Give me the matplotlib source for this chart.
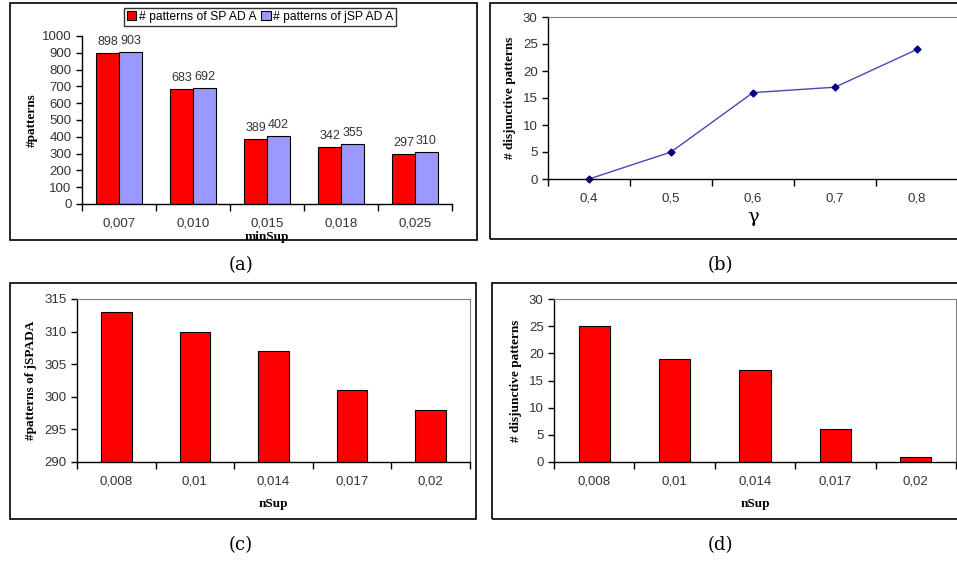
import numpy as np
import matplotlib
matplotlib.use("Agg")
import matplotlib.pyplot as plt
from matplotlib.patches import Rectangle

# data
minsup_labels = ["0,007", "0,010", "0,015", "0,018", "0,025"]
spada_counts = [898, 683, 389, 342, 297]
jspada_counts = [903, 692, 402, 355, 310]

gamma_labels = ["0,4", "0,5", "0,6", "0,7", "0,8"]
disj_by_gamma = [0, 5, 16, 17, 24]

nsup_labels = ["0,008", "0,01", "0,014", "0,017", "0,02"]
jspada_by_nsup = [313, 310, 307, 301, 298]
disj_by_nsup = [25, 19, 17, 6, 1]

W, H = 957, 563
fig = plt.figure(figsize=(W / 100, H / 100), dpi=100)

SANS = "Liberation Sans"
SERIF = "Liberation Serif"
RED = "#FF0000"
BLUE = "#9999FF"
GRAY = "#808080"
TXT = "#333333"
TICK_FS = 9.5
LAB_FS = 9.5


def px_axes(x0, y0, x1, y1):
    # pixel box (top-left origin) -> figure axes
    return fig.add_axes([x0 / W, 1 - y1 / H, (x1 - x0) / W, (y1 - y0) / H])


def frame(x0, y0, x1, y1):
    fig.add_artist(Rectangle((x0 / W, 1 - y1 / H), (x1 - x0) / W, (y1 - y0) / H,
                             transform=fig.transFigure, fill=False,
                             edgecolor="black", linewidth=1.2))


def caption(x, y, s):
    fig.text(x / W, 1 - y / H, s, ha="center", va="center",
             fontsize=13, family="DejaVu Serif")


def cat_axis(ax, labels, top_gray=True, right_gray=True):
    n = len(labels)
    ax.set_xlim(0, n)
    ax.set_xticks(np.arange(n + 1))
    ax.set_xticklabels([])
    ax.set_xticks(np.arange(n) + 0.5, minor=True)
    ax.set_xticklabels(labels, minor=True, fontsize=TICK_FS, family=SANS, color=TXT)
    ax.tick_params(axis="x", which="major", direction="out", length=5, width=1)
    ax.tick_params(axis="x", which="minor", length=0, pad=10)
    ax.tick_params(axis="y", direction="out", length=4, width=1,
                   labelsize=TICK_FS, labelcolor=TXT)
    for lab in ax.get_yticklabels():
        lab.set_family(SANS)
    ax.spines["left"].set_linewidth(1)
    ax.spines["bottom"].set_linewidth(1)
    ax.spines["top"].set_visible(top_gray)
    ax.spines["right"].set_visible(right_gray)
    ax.spines["top"].set_color(GRAY)
    ax.spines["right"].set_color(GRAY)
    ax.set_facecolor("none")


# ---------- (a) ----------
frame(10, 3, 477, 240)
ax = px_axes(82, 36, 452, 204)
x = np.arange(len(minsup_labels)) + 0.5
bw = 0.31
b1 = ax.bar(x - bw / 2, spada_counts, bw, color=RED, edgecolor="black", linewidth=0.8,
            label="# patterns of SP AD A")
b2 = ax.bar(x + bw / 2, jspada_counts, bw, color=BLUE, edgecolor="black", linewidth=0.8,
            label="# patterns of jSP AD A")
ax.set_ylim(0, 1000)
ax.set_yticks(np.arange(0, 1001, 100))
cat_axis(ax, minsup_labels, top_gray=False, right_gray=False)
for bars, vals in ((b1, spada_counts), (b2, jspada_counts)):
    for r, v in zip(bars, vals):
        ax.text(r.get_x() + r.get_width() / 2, v + 30, str(v), ha="center", va="bottom",
                fontsize=9, family=SANS, color=TXT)
ax.set_ylabel("#patterns", family=SERIF, fontweight="bold", fontsize=LAB_FS, labelpad=3)
ax.set_xlabel("minSup", family=SERIF, fontweight="bold", fontsize=LAB_FS, labelpad=1)
leg = fig.legend(handles=[b1, b2], loc="center", bbox_to_anchor=(260 / W, 1 - 17 / H),
                 ncol=2, frameon=True, fancybox=False, edgecolor="black",
                 prop={"family": SANS, "size": 8.7}, handlelength=0.8, handleheight=0.8,
                 handletextpad=0.2, columnspacing=0.4, borderpad=0.25, borderaxespad=0)
leg.get_frame().set_linewidth(1)
caption(241, 265, "(a)")

# ---------- (b) ----------
frame(490, 3, 960, 239)
ax = px_axes(548, 17, 958, 179)
x = np.arange(len(gamma_labels)) + 0.5
ax.plot(x, disj_by_gamma, color="#4848B0", linewidth=1, marker="D", markersize=3.5,
        markerfacecolor="#000080", markeredgecolor="#000080", clip_on=False)
ax.set_ylim(0, 30)
ax.set_yticks(np.arange(0, 31, 5))
cat_axis(ax, gamma_labels, top_gray=True, right_gray=False)
ax.set_ylabel("# disjunctive patterns", family=SERIF, fontweight="bold", fontsize=LAB_FS,
              labelpad=5)
ax.set_xlabel("γ", family="DejaVu Serif", fontsize=14, labelpad=2)
caption(720, 265, "(b)")

# ---------- (c) ----------
frame(10, 283, 476, 519)
ax = px_axes(77, 299, 470, 462)
x = np.arange(len(nsup_labels)) + 0.5
ax.bar(x, jspada_by_nsup, 0.39, color=RED, edgecolor="black", linewidth=0.8)
ax.set_ylim(290, 315)
ax.set_yticks(np.arange(290, 316, 5))
cat_axis(ax, nsup_labels)
ax.set_ylabel("#patterns of jSPADA", family=SERIF, fontweight="bold", fontsize=LAB_FS,
              labelpad=5)
ax.set_xlabel("nSup", family=SERIF, fontweight="bold", fontsize=LAB_FS, labelpad=7)
caption(241, 545, "(c)")

# ---------- (d) ----------
frame(492, 283, 960, 519)
ax = px_axes(554, 299, 956, 462)
ax.bar(x, disj_by_nsup, 0.39, color=RED, edgecolor="black", linewidth=0.8)
ax.set_ylim(0, 30)
ax.set_yticks(np.arange(0, 31, 5))
cat_axis(ax, nsup_labels)
ax.set_ylabel("# disjunctive patterns", family=SERIF, fontweight="bold", fontsize=LAB_FS,
              labelpad=5)
ax.set_xlabel("nSup", family=SERIF, fontweight="bold", fontsize=LAB_FS, labelpad=7)
caption(720, 545, "(d)")

fig.savefig("out.png", dpi=100)
